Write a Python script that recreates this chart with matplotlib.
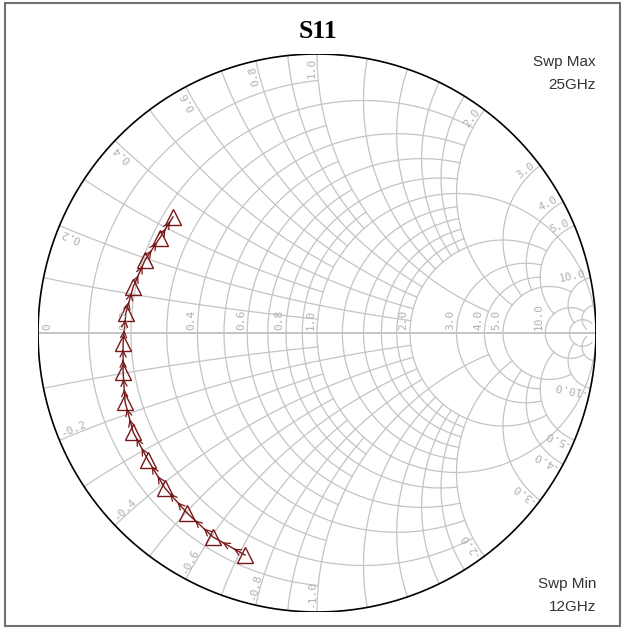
import numpy as np
import matplotlib.pyplot as plt
from matplotlib.patches import Rectangle

# S11 sweep, 12 GHz .. 25 GHz in 1 GHz steps (reflection coefficient)
freq_ghz = list(range(12, 26))
s11_re = [-0.258, -0.373, -0.466, -0.545, -0.606, -0.659, -0.688,
          -0.695, -0.695, -0.685, -0.659, -0.616, -0.563, -0.516]
s11_im = [-0.796, -0.731, -0.645, -0.556, -0.455, -0.355, -0.247,
          -0.140, -0.036, 0.072, 0.165, 0.262, 0.341, 0.416]

# smith grid: (value, how far the line runs along the other family)
INF = np.inf
res_lines = [(0.1, 1), (0.2, 2), (0.3, 1), (0.4, 2), (0.5, 1), (0.6, 2),
             (0.7, 1), (0.8, 2), (0.9, 1), (1.0, INF), (1.2, 2), (1.4, 2),
             (1.6, 2), (1.8, 2), (2.0, 5), (3.0, 5), (4.0, 5), (5.0, 10),
             (10.0, 20), (20.0, 50)]
rea_lines = [(0.1, 1), (0.2, 2), (0.3, 1), (0.4, 2), (0.5, 1), (0.6, 2),
             (0.7, 1), (0.8, 2), (0.9, 1), (1.0, 4), (1.2, 2), (1.4, 2),
             (1.6, 2), (1.8, 2), (2.0, 5), (3.0, 5), (4.0, 5), (5.0, 10),
             (10.0, 20), (20.0, 50)]
res_labels = [0.2, 0.4, 0.6, 0.8, 1.0, 2.0, 3.0, 4.0, 5.0, 10.0]
rea_labels = [0.2, 0.4, 0.6, 0.8, 1.0, 2.0, 3.0, 4.0, 5.0, 10.0]

GRID = '#c4c4c4'
LBL = '#b0b0b0'
TRACE = '#761818'


def gamma(z):
    return (z - 1) / (z + 1)


fig = plt.figure(figsize=(6.26, 6.28), dpi=100)
ax = fig.add_axes([38 / 626, 16 / 628, 558 / 626, 558 / 628])
ax.set_xlim(-1, 1)
ax.set_ylim(-1, 1)
ax.set_aspect('equal')
ax.axis('off')

# constant resistance circles
for r, lim in res_lines:
    t = np.linspace(-np.arctan(lim), np.arctan(lim), 600)
    g = gamma(r + 1j * np.tan(t * 0.9999))
    ax.plot(g.real, g.imag, color=GRID, lw=0.9)

# constant reactance arcs
for x, lim in rea_lines:
    rr = np.tan(np.linspace(0, np.arctan(lim), 600))
    for s in (1, -1):
        g = gamma(rr + 1j * s * x)
        ax.plot(g.real, g.imag, color=GRID, lw=0.9)

ax.plot([-1, 1], [0, 0], color=GRID, lw=1.4)
th = np.linspace(0, 2 * np.pi, 800)
ax.plot(np.cos(th), np.sin(th), color='black', lw=1.2)

# labels on the real axis
lab_kw = dict(color=LBL, fontsize=8, family='DejaVu Sans Mono',
              rotation_mode='anchor')
ax.text(-0.95, 0.012, '0', rotation=90, ha='left', va='bottom', **lab_kw)
for r in res_labels:
    ax.text(gamma(r).real - 0.005, 0.012, f'{r:.1f}', rotation=90,
            ha='left', va='bottom', **lab_kw)

# labels around the rim
for x in rea_labels:
    for s in (1, -1):
        p = gamma(1j * s * x) * 0.985
        ang = np.degrees(np.angle(p))
        if s > 0:
            ax.text(p.real, p.imag, f'{x:.1f}', rotation=ang,
                    ha='right', va='bottom', **lab_kw)
        else:
            ax.text(p.real, p.imag, f'-{x:.1f}', rotation=ang + 180,
                    ha='left', va='bottom', **lab_kw)

# trace with direction arrows
ax.plot(s11_re, s11_im, color=TRACE, lw=1.0)
for i in range(len(s11_re) - 1):
    x0, y0 = s11_re[i], s11_im[i]
    x1, y1 = s11_re[i + 1], s11_im[i + 1]
    for f in (0.35, 0.7):
        mx, my = x0 + (x1 - x0) * f, y0 + (y1 - y0) * f
        dx, dy = (x1 - x0) * 0.08, (y1 - y0) * 0.08
        ax.annotate('', xy=(mx + dx, my + dy), xytext=(mx - dx, my - dy),
                    arrowprops=dict(arrowstyle='->,head_length=0.45,head_width=0.22',
                                    color=TRACE, lw=0.9))
ax.plot(s11_re, s11_im, ls='none', marker='^', ms=11, mfc='none',
        mec=TRACE, mew=1.0)

fig.text(318 / 626, 1 - 32 / 628, 'S11', family='Liberation Serif',
         fontweight='bold', fontsize=18.5, ha='center', va='center')
sw = dict(family='Liberation Sans', fontsize=11, color='#333333',
          ha='right', va='center')
fig.text(596 / 626, 1 - 62 / 628, 'Swp Max', **sw)
fig.text(596 / 626, 1 - 85 / 628, '25GHz', **sw)
fig.text(596 / 626, 1 - 584 / 628, 'Swp Min', **sw)
fig.text(596 / 626, 1 - 607 / 628, '12GHz', **sw)

fig.patches.append(Rectangle((5 / 626, 2 / 628), 615 / 626, 623 / 628,
                             transform=fig.transFigure, fill=False,
                             ec='#707070', lw=1.5))

fig.savefig('out.png', dpi=100)
